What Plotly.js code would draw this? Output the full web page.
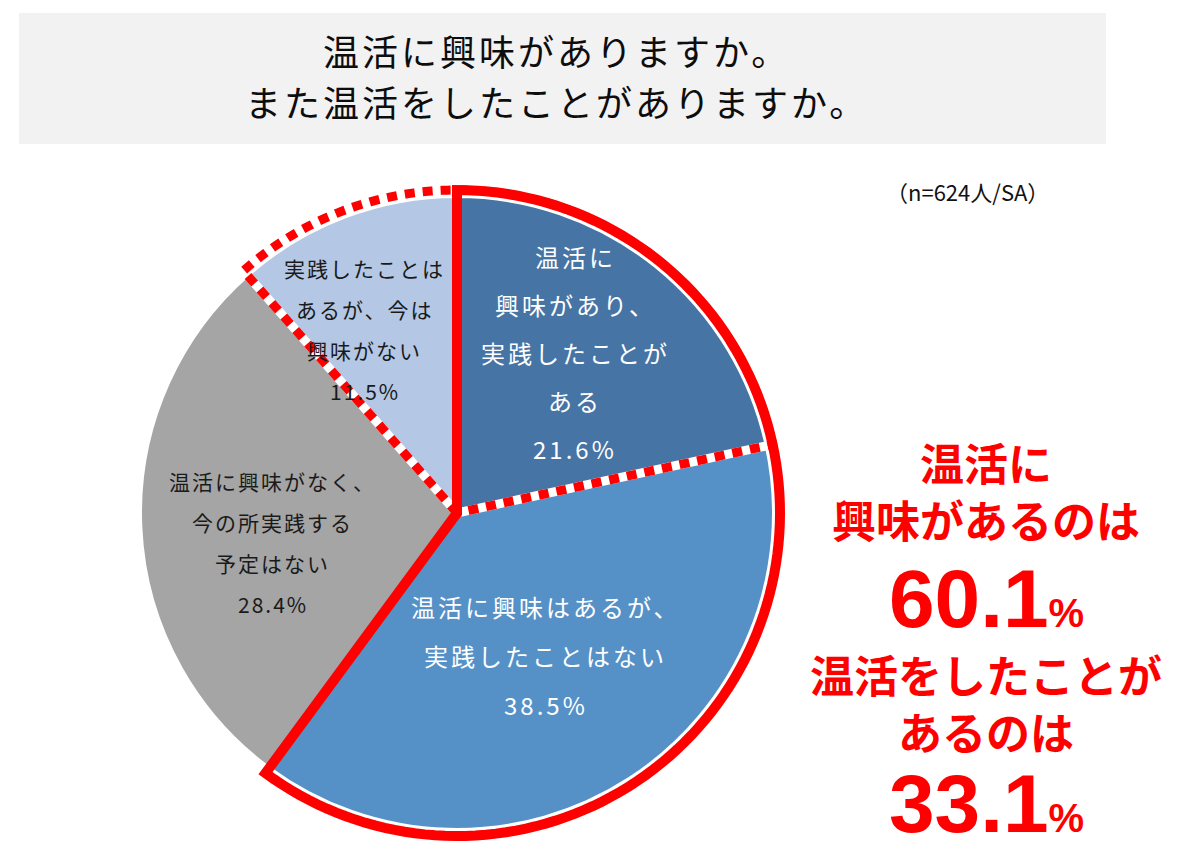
<!DOCTYPE html>
<html>
<head>
<meta charset="utf-8">
<script src="https://cdn.plot.ly/plotly-3.0.1.min.js"></script>
<style>
html,body{margin:0;padding:0;background:#fff;}
#chart{width:1190px;height:864px;}
</style>
</head>
<body>
<div id="chart"></div>
<script>
// ---- data ----
const categories = [
  '温活に興味があり、実践したことがある',
  '温活に興味はあるが、実践したことはない',
  '温活に興味がなく、今の所実践する予定はない',
  '実践したことはあるが、今は興味がない'
];
const values = [21.6, 38.5, 28.4, 11.5];
const labelLines = [
  ['温活に', '興味があり、', '実践したことが', 'ある'],
  ['温活に興味はあるが、', '実践したことはない'],
  ['温活に興味がなく、', '今の所実践する', '予定はない'],
  ['実践したことは', 'あるが、今は', '興味がない']
];
const titleLines = ['温活に興味がありますか。', 'また温活をしたことがありますか。'];
const sampleNote = '（n=624人/SA）';
const summaryA = ['温活に', '興味があるのは'];
const summaryB = ['温活をしたことが', 'あるのは'];

// ---- styles ----
const colors = ['#4674A4', '#5591C7', '#A5A5A5', '#B4C8E5'];
const textColors = ['#ffffff', '#ffffff', '#1a1a1a', '#1a1a1a'];
const labelFont = [24, 24, 21, 21];
const labelSpacing = [48, 49, 41, 41];
const labelLetter = [3, 3, 2, 2];
const labelR = [0.63, 0.53, 0.59, 0.65];
const labelDAng = [-2.5, 1, -6.7, -6];

const W = 1190, H = 864;
const CX = 457, CY = 513, R = 316;
const RO = 323; // outline radius

const px = x => x / W;
const py = y => 1 - y / H;

// cumulative angles (degrees clockwise from 12 o'clock)
const total = values.reduce((a, b) => a + b, 0);
const starts = [], ends = [];
let acc = 0;
values.forEach(v => { starts.push(acc / total * 360); acc += v; ends.push(acc / total * 360); });

function pt(r, deg) {
  const t = deg * Math.PI / 180;
  return [CX + r * Math.sin(t), CY - r * Math.cos(t)];
}
function wedgePath(a0, a1, r) {
  let s = 'M ' + px(CX) + ',' + py(CY);
  const n = 120;
  for (let i = 0; i <= n; i++) {
    const a = a0 + (a1 - a0) * i / n;
    const p = pt(r, a);
    s += ' L ' + px(p[0]) + ',' + py(p[1]);
  }
  return s + ' Z';
}

const trace = {
  type: 'pie',
  labels: categories,
  values: values,
  sort: false,
  direction: 'clockwise',
  rotation: 0,
  textinfo: 'none',
  hoverinfo: 'none',
  marker: { colors: colors, line: { color: '#ffffff', width: 2 } },
  domain: { x: [px(CX - R), px(CX + R)], y: [py(CY + R), py(CY - R)] },
  showlegend: false
};

const annotations = [];
const fontFam = '"Noto Sans CJK JP", "Noto Sans", sans-serif';

// slice labels
values.forEach((v, i) => {
  const mid = (starts[i] + ends[i]) / 2 + labelDAng[i];
  const c = pt(R * labelR[i], mid);
  const lines = labelLines[i].concat([v.toFixed(1) + '%']);
  const n = lines.length;
  lines.forEach((ln, j) => {
    annotations.push({
      xref: 'paper', yref: 'paper', x: px(c[0]), y: py(c[1]),
      xanchor: 'center', yanchor: 'middle', showarrow: false,
      yshift: ((n - 1) / 2 - j) * labelSpacing[i],
      text: '<span style="letter-spacing:' + labelLetter[i] + 'px">' + ln + '</span>',
      font: { family: fontFam, size: labelFont[i], color: textColors[i] }
    });
  });
});

// title
titleLines.forEach((t, j) => {
  annotations.push({
    xref: 'paper', yref: 'paper', x: px(556), y: py(j === 0 ? 50 : 101),
    xanchor: 'center', yanchor: 'middle', showarrow: false,
    text: '<span style="letter-spacing:3px">' + t + '</span>',
    font: { family: fontFam, size: 36, color: '#0d0d0d' }
  });
});

// sample note
annotations.push({
  xref: 'paper', yref: 'paper', x: px(967), y: py(191),
  xanchor: 'center', yanchor: 'middle', showarrow: false,
  text: sampleNote,
  font: { family: fontFam, size: 22, color: '#111111' }
});

// summaries
const interested = values[0] + values[1];
const practiced = values[0] + values[3];
const redFont = { family: fontFam, size: 44, color: '#FF0000', weight: 700 };
const bigFont = { family: '"Liberation Sans", Arial, sans-serif', size: 82, color: '#FF0000', weight: 700 };
const sumX = px(986);
annotations.push({ xref: 'paper', yref: 'paper', x: sumX, y: py(490), xanchor: 'center', yanchor: 'middle', showarrow: false,
  text: '<b>' + summaryA.join('<br>') + '</b>', font: redFont });
annotations.push({ xref: 'paper', yref: 'paper', x: sumX, y: py(598), xanchor: 'center', yanchor: 'middle', showarrow: false,
  text: '<b>' + interested.toFixed(1) + '<span style="font-size:40px">%</span></b>', font: bigFont });
annotations.push({ xref: 'paper', yref: 'paper', x: sumX, y: py(702), xanchor: 'center', yanchor: 'middle', showarrow: false,
  text: '<b>' + summaryB.join('<br>') + '</b>', font: redFont });
annotations.push({ xref: 'paper', yref: 'paper', x: sumX, y: py(803), xanchor: 'center', yanchor: 'middle', showarrow: false,
  text: '<b>' + practiced.toFixed(1) + '<span style="font-size:40px">%</span></b>', font: bigFont });

// outline shapes
const dottedPath = wedgePath(starts[3], ends[0] + 360, RO);
const solidPath = wedgePath(starts[0], ends[1], RO);

const shapes = [
  { type: 'rect', xref: 'paper', yref: 'paper', x0: px(19), x1: px(1106), y0: py(144), y1: py(13),
    fillcolor: '#F2F2F2', line: { width: 0 }, layer: 'below' },
  { type: 'path', xref: 'paper', yref: 'paper', path: dottedPath, line: { color: '#ffffff', width: 9 }, layer: 'above' },
  { type: 'path', xref: 'paper', yref: 'paper', path: dottedPath, line: { color: '#FF0000', width: 9, dash: '10px,8px' }, layer: 'above' },
  { type: 'path', xref: 'paper', yref: 'paper', path: solidPath, line: { color: '#FF0000', width: 10 }, layer: 'above' }
];

const layout = {
  width: W, height: H,
  margin: { l: 0, r: 0, t: 0, b: 0 },
  paper_bgcolor: '#ffffff',
  showlegend: false,
  shapes: shapes,
  annotations: annotations
};

Plotly.newPlot('chart', [trace], layout, { displayModeBar: false, staticPlot: true });
</script>
</body>
</html>
